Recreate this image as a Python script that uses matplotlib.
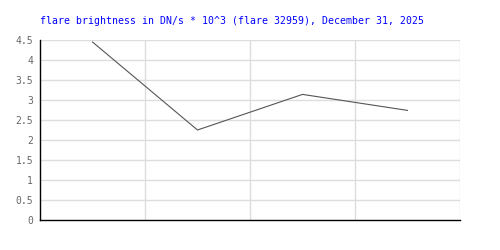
import numpy as np
import matplotlib.pyplot as plt

# flare brightness samples (DN/s * 10^3)
samples = [1, 2, 3, 4]
brightness = [4.45, 2.25, 3.14, 2.74]
yticks = [0, 0.5, 1, 1.5, 2, 2.5, 3, 3.5, 4, 4.5]
title = "flare brightness in DN/s * 10^3 (flare 32959), December 31, 2025"

fig = plt.figure(figsize=(5, 2.5), dpi=100)
ax = fig.add_axes([0.08, 0.12, 0.84, 0.72])

x = np.array(samples) - 0.5
ax.plot(x, brightness, color='#555555', lw=0.8, zorder=3)

ax.set_xlim(0, len(samples))
ax.set_ylim(0, 4.5)
ax.set_yticks(yticks)
ax.set_yticklabels([f"{t:g}" for t in yticks], family='DejaVu Sans Mono',
                   fontsize=7, color='#666666')
ax.set_xticks([])
ax.tick_params(axis='y', length=0, pad=5)

for t in yticks[1:]:
    ax.axhline(t, color='#dddddd', lw=1, zorder=1)
for s in samples:
    ax.axvline(s, color='#dddddd', lw=1, zorder=1)

for side in ['top', 'right']:
    ax.spines[side].set_visible(False)
ax.spines['left'].set_color('black')
ax.spines['bottom'].set_color('black')
ax.spines['left'].set_linewidth(1)
ax.spines['bottom'].set_linewidth(1)

fig.text(0.08, 0.915, title, family='DejaVu Sans Mono', fontsize=7.1,
         color='#0000ff', ha='left', va='center')

fig.savefig("out.png", dpi=100)
